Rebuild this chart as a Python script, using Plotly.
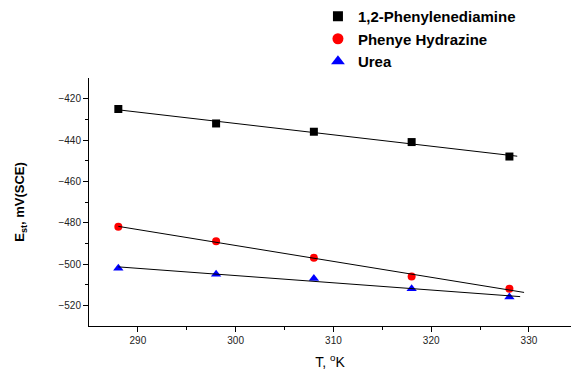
import numpy as np
import plotly.graph_objects as go

temps = [288, 298, 308, 318, 328]
series_names = ["1,2-Phenylenediamine", "Phenye Hydrazine", "Urea"]
pd_vals = [-425, -432, -436, -441, -448]
ph_vals = [-482, -489, -497, -506, -512]
urea_vals = [-502, -505, -507, -512, -516]
fit_ends = [328.8, 329.5, 329.1]

colors = ["black", "red", "blue"]
symbols = ["square", "circle", "triangle-up"]
sizes = [8, 8, 9]
legend_sizes = [10, 11, 12]

fig = go.Figure()
for name, vals, c, s, sz, lsz, xe in zip(series_names, [pd_vals, ph_vals, urea_vals], colors, symbols,
                                        sizes, legend_sizes, fit_ends):
    fig.add_trace(go.Scatter(x=temps, y=vals, mode="markers", name=name, showlegend=False,
                             marker=dict(symbol=s, color=c, size=sz, line=dict(width=0))))
    k, b = np.polyfit(temps, vals, 1)
    xs = np.array([temps[0], xe])
    fig.add_trace(go.Scatter(x=xs, y=k * xs + b, mode="lines", showlegend=False,
                             line=dict(color="black", width=1)))
    # legend entry (larger symbol, as in the reference legend)
    fig.add_trace(go.Scatter(x=[None], y=[None], mode="markers", name=name,
                             marker=dict(symbol=s, color=c, size=lsz, line=dict(width=0))))

fig.update_layout(
    width=571, height=378,
    margin=dict(l=89, r=0, t=77, b=52),
    paper_bgcolor="white", plot_bgcolor="white",
    font=dict(family="Liberation Sans, Arial", color="black"),
    legend=dict(x=0.475, y=1.315, xanchor="left", yanchor="top",
                font=dict(size=15, family="Liberation Sans, Arial", color="black", weight="bold"),
                bgcolor="rgba(0,0,0,0)", tracegroupgap=0),
    xaxis=dict(range=[285, 334.3], tickvals=[290, 300, 310, 320, 330],
               ticks="outside", ticklen=5, tickcolor="black", showline=True, linecolor="black",
               linewidth=1, showgrid=False, zeroline=False,
               tickfont=dict(size=10, color="#222"),
               minor=dict(tickvals=[295, 305, 315, 325], ticks="outside", ticklen=3, tickcolor="black"),
               title=dict(text="T, <sup>o</sup>K", font=dict(size=14), standoff=12)),
    yaxis=dict(range=[-530, -410], tickvals=[-420, -440, -460, -480, -500, -520],
               ticks="outside", ticklen=5, tickcolor="black", showline=True, linecolor="black",
               linewidth=1, showgrid=False, zeroline=False,
               tickfont=dict(size=10, color="#222"),
               minor=dict(tickvals=[-430, -450, -470, -490, -510], ticks="outside", ticklen=3, tickcolor="black"),
               title=dict(text="<b>E<sub>st</sub>, mV(SCE)</b>", font=dict(size=13), standoff=30)),
)

fig.write_html("out.html")
